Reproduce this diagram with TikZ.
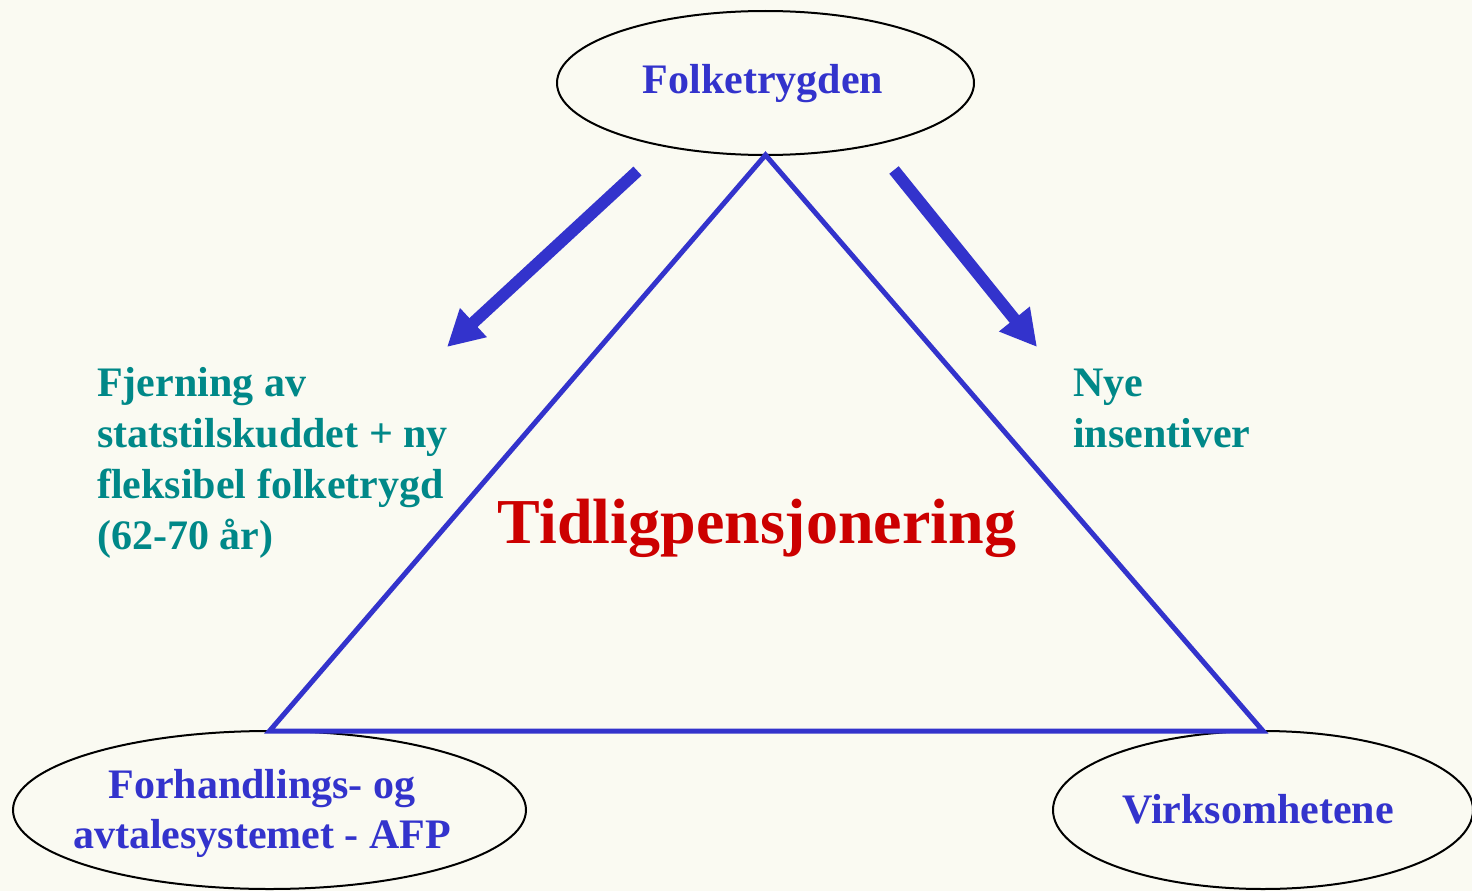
\documentclass[tikz,border=0pt]{standalone}
\usepackage{fontspec}
\setmainfont{Liberation Serif}
\usetikzlibrary{shapes.geometric,arrows.meta}
\definecolor{bgc}{HTML}{FAFAF2}
\definecolor{dblue}{HTML}{3333CC}
\definecolor{dteal}{HTML}{008888}
\definecolor{dred}{HTML}{CC0000}
\tikzset{
  ell/.style={draw=black, line width=2pt, ellipse, inner sep=0pt, outer sep=0pt},
  bluetxt/.style={text=dblue, font=\bfseries\fontsize{42}{50}\selectfont, inner sep=0pt, align=center},
  tealtxt/.style={text=dteal, font=\bfseries\fontsize{42}{51}\selectfont, inner sep=0pt, align=left},
  bigarrow/.style={draw=dblue, line width=12pt, -{Triangle[length=36pt,width=37pt]}},
  tri/.style={draw=dblue, line width=5pt, line join=miter}
}
\begin{document}
\begin{tikzpicture}[x=1pt,y=-1pt]
\fill[bgc] (0,0) rectangle (1472,891);
\useasboundingbox (0,0) rectangle (1472,891);
% ellipses
\node[ell, minimum width=417pt, minimum height=144pt] (top) at (765.5,83) {};
\node[ell, minimum width=513pt, minimum height=158pt] (left) at (269.5,810) {};
\node[ell, minimum width=420pt, minimum height=158pt] (right) at (1263,810) {};
% triangle
\draw[tri] (top.south) -- (left.north) -- (right.north) -- cycle;
% arrows
\coordinate (la) at (637.5,171);
\coordinate (lb) at (447,347);
\coordinate (ra) at (894,170);
\coordinate (rb) at (1037,347);
\draw[bigarrow] (la) -- (lb);
\draw[bigarrow] (ra) -- (rb);
% texts
\node[bluetxt, anchor=base] (ttop) at (763,93) {Folketrygden};
\node[bluetxt, anchor=base] (tleft) at (262,848) {Forhandlings- og\\avtalesystemet - AFP};
\node[bluetxt, anchor=base] (tright) at (1258,823) {Virksomhetene};
\node[tealtxt, anchor=base west] (tl) at (97,549) {Fjerning av\\statstilskuddet + ny\\fleksibel folketrygd\\(62-70 år)};
\node[tealtxt, anchor=base west] (tr) at (1073,447) {Nye\\insentiver};
\node[text=dred, font=\bfseries\fontsize{64}{72}\selectfont, inner sep=0pt, anchor=base] (center) at (757,543) {Tidligpensjonering};
\end{tikzpicture}
\end{document}
